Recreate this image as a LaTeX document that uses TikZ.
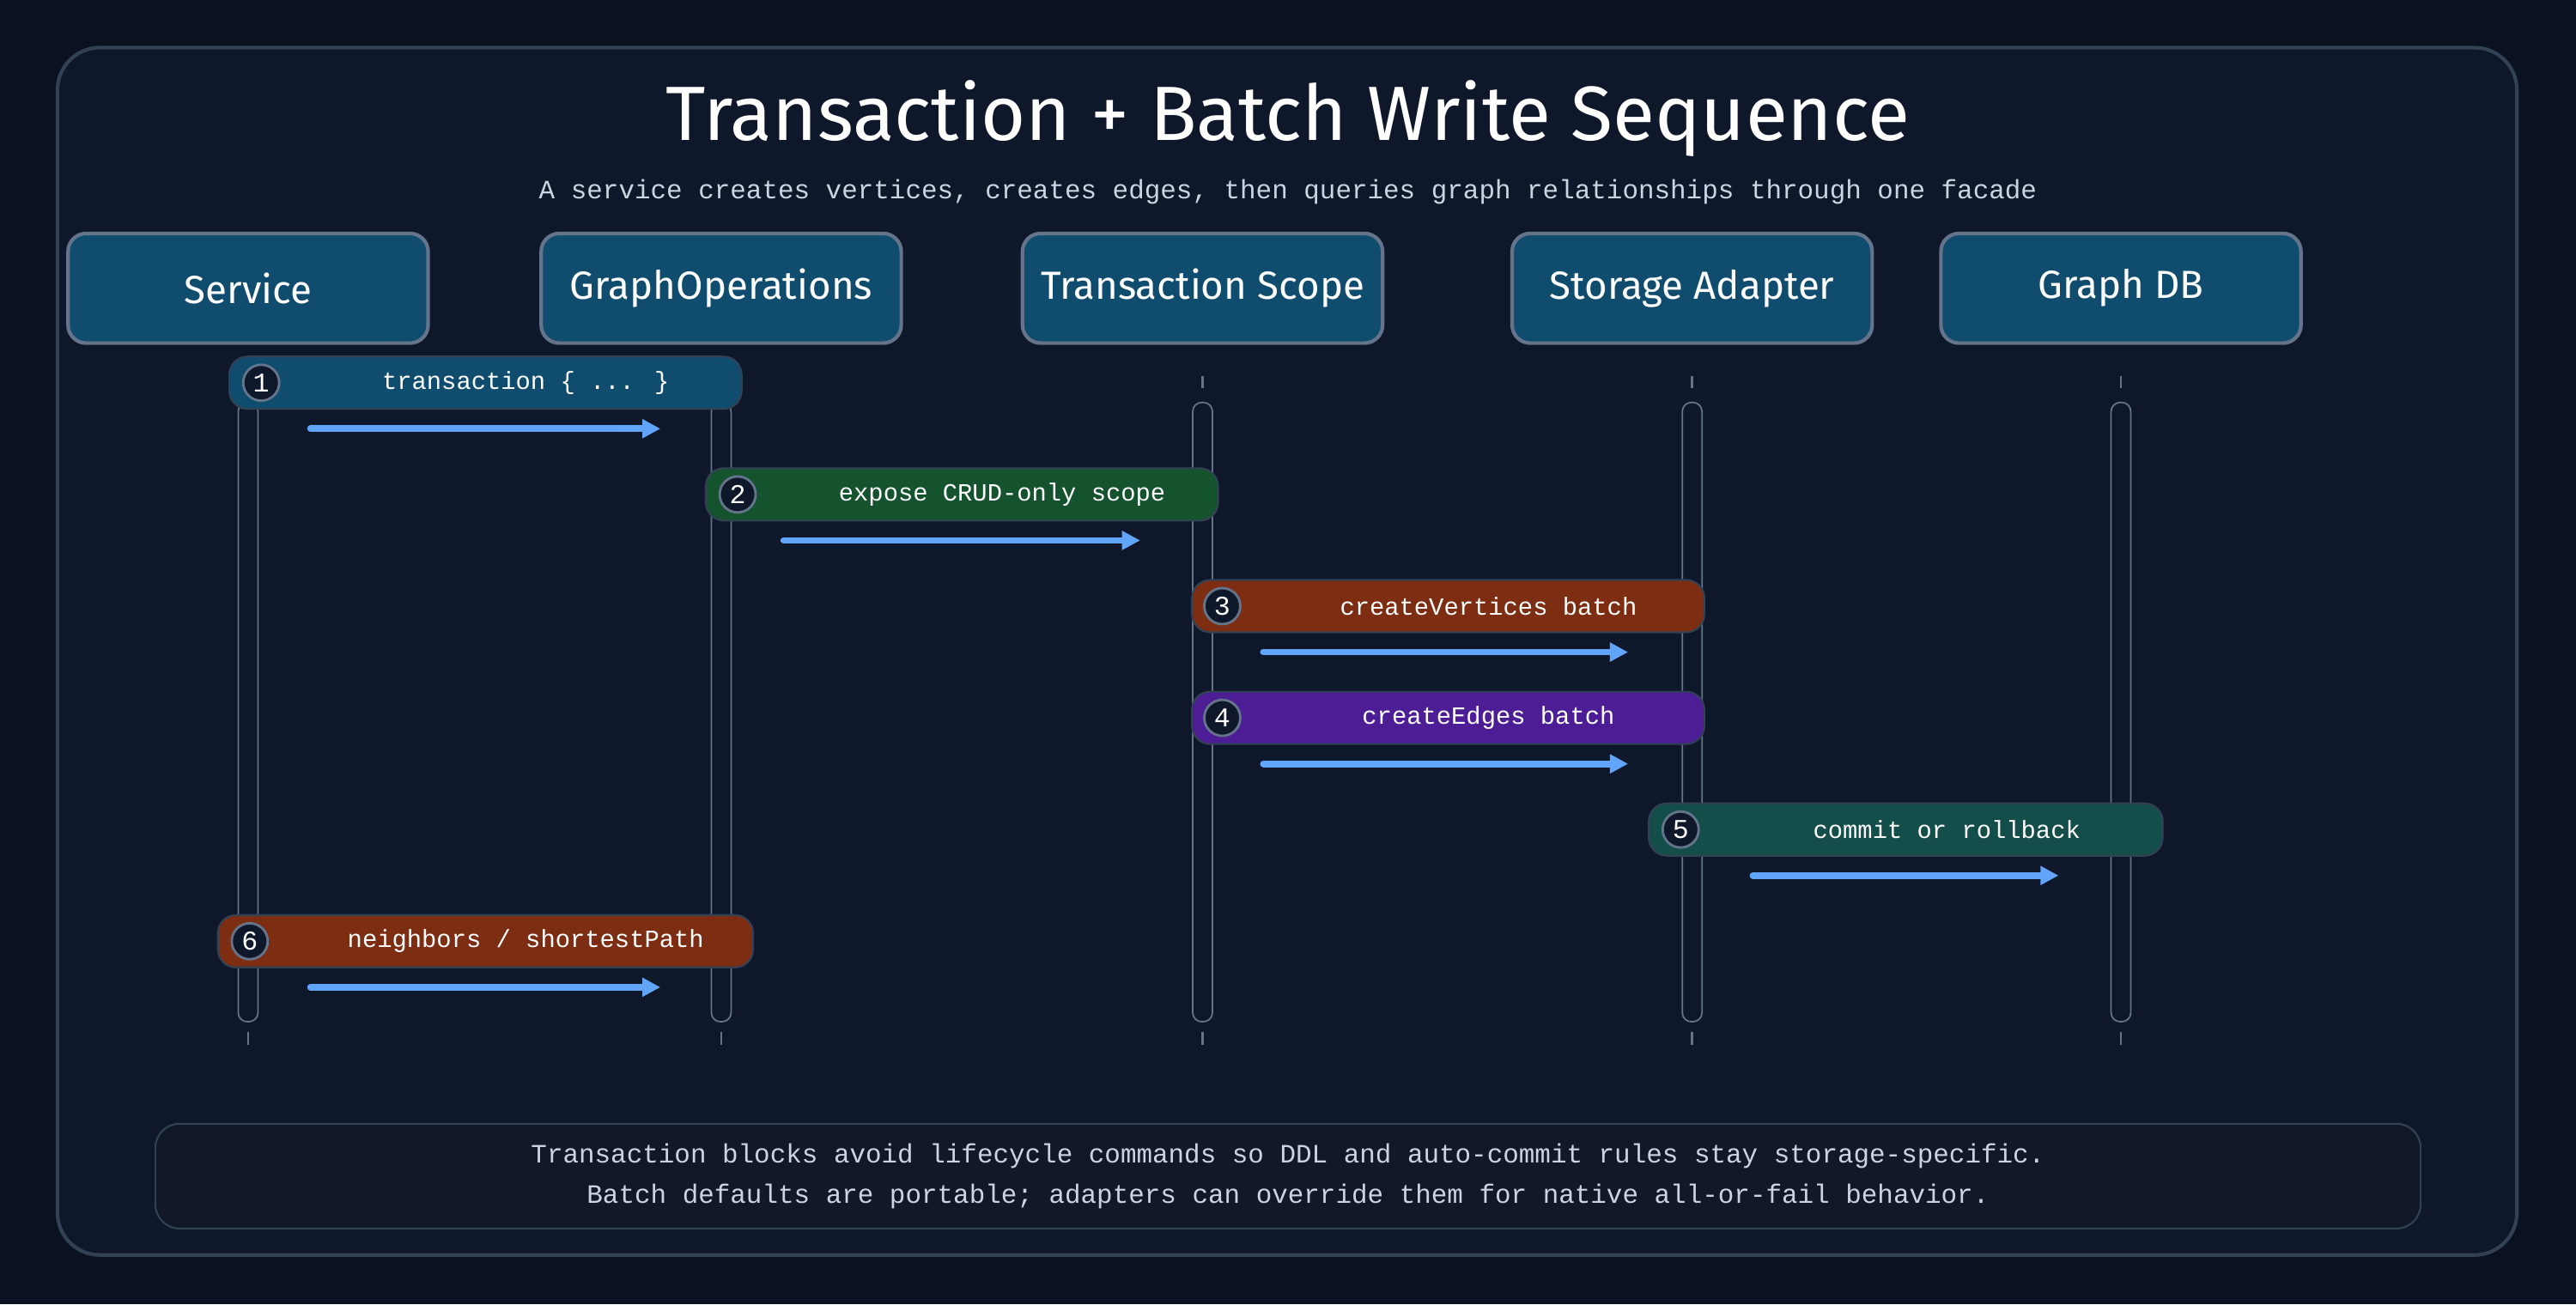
\documentclass[tikz,border=0pt]{standalone}
\usepackage{fontspec}
\setmainfont{Fira Sans}
\newfontfamily\monofont{Liberation Mono}
\usetikzlibrary{arrows.meta}
\definecolor{bgpage}{HTML}{0A1120}
\definecolor{bgframe}{HTML}{0F172A}
\definecolor{frameline}{HTML}{334155}
\definecolor{actorfill}{HTML}{0F4C6E}
\definecolor{actorline}{HTML}{64748B}
\definecolor{msgarrow}{HTML}{60A5FA}
\definecolor{subtext}{HTML}{CBD5E1}
\definecolor{stepgreen}{HTML}{14532D}
\definecolor{steporange}{HTML}{7C2D12}
\definecolor{steppurple}{HTML}{4C1D95}
\definecolor{stepteal}{HTML}{134E4A}
\definecolor{footfill}{HTML}{111827}
\newcommand{\unitpx}{0.5424pt}
\tikzset{
  actor/.style={draw=actorline, line width=1.2pt, fill=actorfill, rounded corners=6pt,
    minimum width=220*\unitpx, minimum height=67*\unitpx, text=white, font=\fontsize{13}{15}\selectfont, inner sep=0pt},
  lifebar/.style={draw=actorline, line width=0.5pt, rounded corners=3pt},
  tick/.style={actorline, line width=0.8pt},
  stepbox/.style={draw=frameline, line width=0.6pt, rounded corners=6pt, minimum height=32*\unitpx, inner sep=0pt},
  stepnum/.style={circle, draw=actorline, line width=0.8pt, fill=bgframe, text=white,
    minimum size=22*\unitpx, inner sep=0pt, font=\monofont\fontsize{9}{10}\selectfont},
  steptext/.style={text=white, font=\monofont\fontsize{8.2}{10}\selectfont},
  call/.style={draw=msgarrow, line width=2.2pt, line cap=round, -{Triangle[length=6pt,width=6pt]}},
}
\begin{document}
\begin{tikzpicture}[x=0.019133cm, y=-0.019133cm]
\useasboundingbox[fill=bgpage] (0,0) rectangle (1568,794);
\draw[fill=bgframe, draw=frameline, line width=1.2pt, rounded corners=14pt] (35,29) rectangle (1532,764);

\node[text=white, font=\fontsize{25.5}{30}\selectfont] (title) at (784,72) {Transaction + Batch Write Sequence};
\node[text=subtext, font=\monofont\fontsize{8.8}{11}\selectfont] (subtitle) at (784,117)
  {A service creates vertices, creates edges, then queries graph relationships through one facade};

% lifelines
\foreach \x in {151,439,732,1030,1291} {
  \draw[tick] (\x,229) -- (\x,236);
  \draw[tick] (\x,628) -- (\x,636);
  \draw[lifebar] (\x-6,245) rectangle (\x+6,622);
}

% actors
\node[actor] (service) at (151,175.5) {Service};
\node[actor] (graphops) at (439,175.5) {GraphOperations};
\node[actor] (txscope) at (732,175.5) {Transaction Scope};
\node[actor] (storage) at (1030,175.5) {Storage Adapter};
\node[actor] (graphdb) at (1291,175.5) {Graph DB};

% steps
\node[stepbox, fill=actorfill, minimum width=313*\unitpx] (box1) at (295.5,233) {};
\node[stepnum] (num1) at (159,233) {1};
\node[steptext] (txt1) at (320,233) {transaction \{ ... \}};
\coordinate (a1) at (189,261); \coordinate (b1) at (402,261);
\draw[call] (a1) -- (b1);

\node[stepbox, fill=stepgreen, minimum width=313*\unitpx] (box2) at (585.5,301) {};
\node[stepnum] (num2) at (449,301) {2};
\node[steptext] (txt2) at (610,301) {expose CRUD-only scope};
\coordinate (a2) at (477,329); \coordinate (b2) at (694,329);
\draw[call] (a2) -- (b2);

\node[stepbox, fill=steporange, minimum width=313*\unitpx] (box3) at (881.5,369) {};
\node[stepnum] (num3) at (744,369) {3};
\node[steptext] (txt3) at (906,369) {createVertices batch};
\coordinate (a3) at (769,397); \coordinate (b3) at (991,397);
\draw[call] (a3) -- (b3);

\node[stepbox, fill=steppurple, minimum width=313*\unitpx] (box4) at (881.5,437) {};
\node[stepnum] (num4) at (744,437) {4};
\node[steptext] (txt4) at (906,437) {createEdges batch};
\coordinate (a4) at (769,465); \coordinate (b4) at (991,465);
\draw[call] (a4) -- (b4);

\node[stepbox, fill=stepteal, minimum width=314*\unitpx] (box5) at (1160,505) {};
\node[stepnum] (num5) at (1023,505) {5};
\node[steptext] (txt5) at (1185,505) {commit or rollback};
\coordinate (a5) at (1067,533); \coordinate (b5) at (1253,533);
\draw[call] (a5) -- (b5);

\node[stepbox, fill=steporange, minimum width=327*\unitpx] (box6) at (295.5,573) {};
\node[stepnum] (num6) at (152,573) {6};
\node[steptext] (txt6) at (320,573) {neighbors / shortestPath};
\coordinate (a6) at (189,601); \coordinate (b6) at (402,601);
\draw[call] (a6) -- (b6);

% footer
\node[draw=frameline, line width=0.6pt, fill=footfill, rounded corners=8pt, minimum width=1384*\unitpx, minimum height=64*\unitpx,
  text=subtext, align=center, font=\monofont\fontsize{8.8}{13.5}\selectfont] (note) at (784,716)
  {Transaction blocks avoid lifecycle commands so DDL and auto-commit rules stay storage-specific.\\
   Batch defaults are portable; adapters can override them for native all-or-fail behavior.};
\end{tikzpicture}
\end{document}
